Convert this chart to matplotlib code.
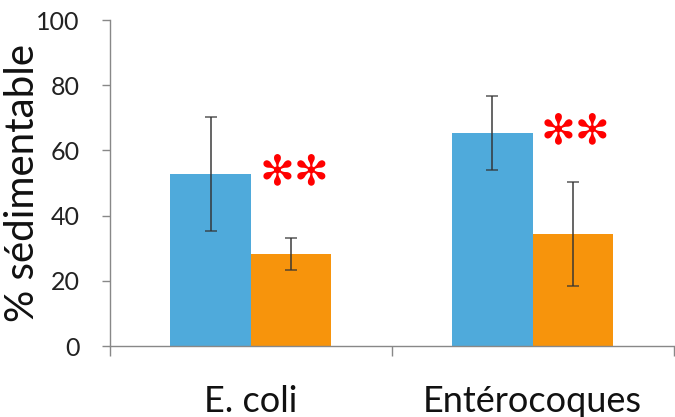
import numpy as np
import matplotlib.pyplot as plt

categories = ["E. coli", "Entérocoques"]
serie_a = [52.8, 65.4]
serie_a_err = [17.6, 11.4]
serie_b = [28.2, 34.4]
serie_b_err = [5.0, 16.0]
y_ticks = [0, 20, 40, 60, 80, 100]

plt.rcParams['font.family'] = ['Lato', 'DejaVu Sans']

fig = plt.figure(figsize=(6.75, 4.17), dpi=100)
ax = fig.add_axes([0.163, 0.170, 0.835, 0.782])

x = np.arange(len(categories))
w = 1 / 3.5
err_kw = dict(ecolor="#333333", elinewidth=1.4, capsize=4, capthick=1.2, alpha=0.75)
ax.bar(x - w / 2, serie_a, w, color="#4FAADB", yerr=serie_a_err, error_kw=err_kw)
ax.bar(x + w / 2, serie_b, w, color="#F7940C", yerr=serie_b_err, error_kw=err_kw)

# significance stars, level with the blue bar top
for xi, a in zip(x, serie_a):
    ax.text(xi + w / 2 + 0.01, a + 0.5, "\u273b\u273b", color="#FF0000",
            fontsize=30, ha="center", va="center", family="DejaVu Sans")

ax.set_xlim(-0.5, 1.5)
ax.set_ylim(0, 100)
ax.set_yticks(y_ticks)
ax.set_yticklabels([str(t) for t in y_ticks], fontsize=18, color="#222222")
ax.set_xticks(x)
ax.set_xticklabels(categories, fontsize=26, color="#111111")
ax.tick_params(axis="x", length=0, pad=28)
ax.set_xticks([-0.5, 0.5, 1.5], minor=True)
ax.tick_params(axis="x", which="minor", length=7, color="#888888", width=1)
ax.tick_params(axis="y", length=6, color="#888888", width=1, pad=16)
ax.set_ylabel("% sédimentable", fontsize=29, color="#111111")
ax.yaxis.set_label_coords(-0.122, 0.5)

for side in ["top", "right"]:
    ax.spines[side].set_visible(False)
for side in ["left", "bottom"]:
    ax.spines[side].set_color("#888888")
    ax.spines[side].set_linewidth(1)

fig.savefig("out.png", dpi=100)
